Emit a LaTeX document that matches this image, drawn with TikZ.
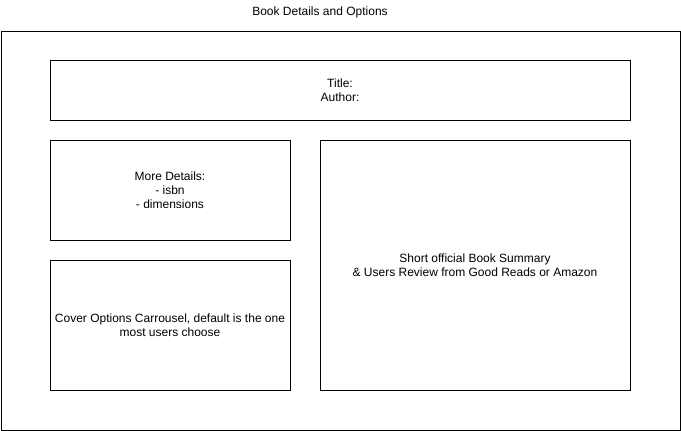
\documentclass[tikz,border=0pt]{standalone}
\usepackage{fontspec}
\setmainfont{Liberation Sans}
\begin{document}
\begin{tikzpicture}[x=1pt,y=-1pt,
  box/.style={draw=black,line width=0.8pt},
  lbl/.style={align=center,font=\fontsize{12}{14}\selectfont,inner sep=0pt}]
\useasboundingbox (0,0) rectangle (681,431);
\draw[box] (1,31) rectangle (680,430);
\node[lbl] (title) at (320,12) {Book Details and Options};
\draw[box] (50,60) rectangle (630,120);
\node[lbl] (ta) at (340,90) {Title:\\Author:};
\draw[box] (50,140) rectangle (290,240);
\node[lbl] (md) at (170,190) {More Details:\\- isbn\\- dimensions};
\draw[box] (50,260) rectangle (290,390);
\node[lbl] (co) at (170,325) {Cover Options Carrousel, default is the one\\most users choose};
\draw[box] (320,140) rectangle (630,390);
\node[lbl] (su) at (475,265) {Short official Book Summary\\\& Users Review from Good Reads or Amazon};
\end{tikzpicture}
\end{document}
